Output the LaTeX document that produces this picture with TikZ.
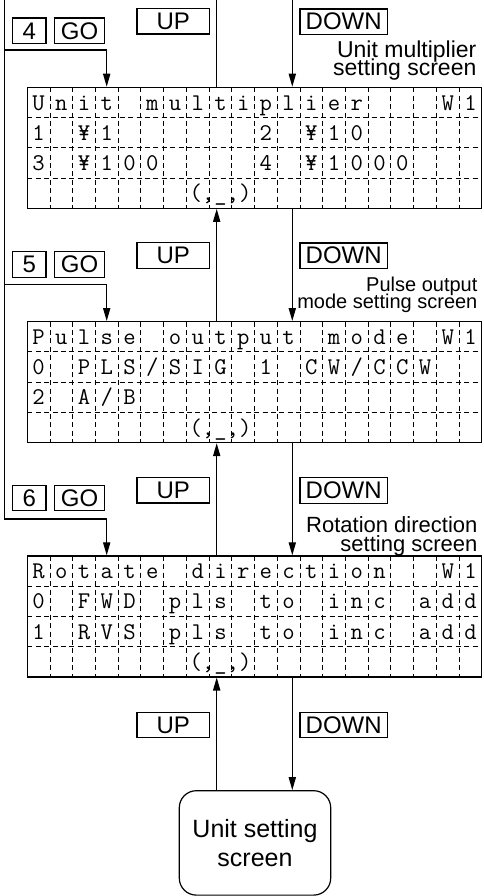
\documentclass[tikz,border=0pt]{standalone}
\usepackage{fontspec}
\setmainfont{Liberation Sans}
\usepackage{tikz}
\usetikzlibrary{positioning,arrows.meta}
\newcommand\tightskip{\lineskiplimit=-20pt\relax}

\begin{document}
\begin{tikzpicture}[x=0.5pt,y=-0.5pt,line width=0.6pt,
  lcd/.style={draw,rectangle,inner sep=0pt,minimum width=227.25pt,minimum height=60.5pt},
  cellgrid/.style={line width=0.5pt,dash pattern=on 2.5pt off 1.7pt},
  lcdchar/.style={anchor=base,inner sep=0pt,font=\fontsize{12}{14}\selectfont\ttfamily},
  keybox/.style={draw,inner sep=0pt,minimum width=#1,minimum height=12.75pt,font=\fontsize{12}{14}\selectfont},
  screenname/.style={anchor=north east,inner sep=0pt,align=right},
  arr/.style={-{Triangle[length=6.5pt,width=3.6pt]}}]
\useasboundingbox (0,0) rectangle (483,896);

\coordinate (upx) at (216.7,0);
\coordinate (downx) at (292.3,0);
\coordinate (gox) at (106.7,0);
\coordinate (loopx) at (4.7,0);
\coordinate (turn4) at (4.7,50);
\coordinate (turn5) at (4.7,284.3);
\coordinate (turn6) at (4.7,519);

% screens
\foreach \t in {87.3,321.6,555.9} {
  \foreach \k in {1,...,19}
    \draw[cellgrid] (27.3+\k*22.725,\t) -- ++(0,121);
  \foreach \r in {1,2,3}
    \draw[cellgrid] (27.3,\t+\r*30.25) -- ++(454.5,0);
}
\node[lcd] (mult) at (254.55,147.8) {};
\node[lcd] (pulse) at (254.55,382.1) {};
\node[lcd] (rot) at (254.55,616.4) {};

% unit multiplier
\foreach \ch [count=\k] in {U,n,i,t,,m,u,l,t,i,p,l,i,e,r,,,,W,1}
  \node[lcdchar] (mult-1-\k) at (15.94+\k*22.725,110) {\ch};
\foreach \ch [count=\k] in {1,,¥,1,,,,,,,2,,¥,1,0}
  \node[lcdchar] (mult-2-\k) at (15.94+\k*22.725,140.25) {\ch};
\foreach \ch [count=\k] in {3,,¥,1,0,0,,,,,4,,¥,1,0,0,0}
  \node[lcdchar] (mult-3-\k) at (15.94+\k*22.725,170.5) {\ch};
\foreach \ch [count=\k from 9] in {(,\_,)}
  \node[lcdchar] (mult-4-\k) at (15.94+\k*22.725,200.75) {\ch};

% pulse output mode
\foreach \ch [count=\k] in {P,u,l,s,e,,o,u,t,p,u,t,,m,o,d,e,,W,1}
  \node[lcdchar] (pulse-1-\k) at (15.94+\k*22.725,344.3) {\ch};
\foreach \ch [count=\k] in {0,,P,L,S,/,S,I,G,,1,,C,W,/,C,C,W}
  \node[lcdchar] (pulse-2-\k) at (15.94+\k*22.725,374.55) {\ch};
\foreach \ch [count=\k] in {2,,A,/,B}
  \node[lcdchar] (pulse-3-\k) at (15.94+\k*22.725,404.8) {\ch};
\foreach \ch [count=\k from 9] in {(,\_,)}
  \node[lcdchar] (pulse-4-\k) at (15.94+\k*22.725,435.05) {\ch};

% rotation direction
\foreach \ch [count=\k] in {R,o,t,a,t,e,,d,i,r,e,c,t,i,o,n,,,W,1}
  \node[lcdchar] (rot-1-\k) at (15.94+\k*22.725,578.6) {\ch};
\foreach \ch [count=\k] in {0,,F,W,D,,p,l,s,,t,o,,i,n,c,,a,d,d}
  \node[lcdchar] (rot-2-\k) at (15.94+\k*22.725,608.85) {\ch};
\foreach \ch [count=\k] in {1,,R,V,S,,p,l,s,,t,o,,i,n,c,,a,d,d}
  \node[lcdchar] (rot-3-\k) at (15.94+\k*22.725,639.1) {\ch};
\foreach \ch [count=\k from 9] in {(,\_,)}
  \node[lcdchar] (rot-4-\k) at (15.94+\k*22.725,669.35) {\ch};

% keys
\node[keybox=16.85pt] (key4) at (29.2,30.8) {4};
\node[keybox=25pt,right=3.65pt of key4] (go4) {GO};
\node[keybox=36.15pt] (up1) at (173.2,21.3) {UP};
\node[keybox=43.65pt] (down1) at (343.7,21.7) {DOWN};

\node[keybox=16.85pt] (key5) at (29.2,264.5) {5};
\node[keybox=25pt,right=3.65pt of key5] (go5) {GO};
\node[keybox=36.15pt] (up2) at (173.2,255.6) {UP};
\node[keybox=43.65pt] (down2) at (343.7,255.7) {DOWN};

\node[keybox=16.85pt] (key6) at (29.2,497.9) {6};
\node[keybox=25pt,right=3.65pt of key6] (go6) {GO};
\node[keybox=36.15pt] (up3) at (173.2,490.3) {UP};
\node[keybox=43.65pt] (down3) at (343.7,490.6) {DOWN};

\node[keybox=36.15pt] (up4) at (173.2,725) {UP};
\node[keybox=43.65pt] (down4) at (343.7,725) {DOWN};

% screen names
\node[screenname,font={\fontsize{11.5}{9.1}\selectfont\tightskip}] (multname) at (477,40.2) {Unit multiplier\\setting screen};
\node[screenname,font={\fontsize{10}{8.8}\selectfont\tightskip}] (pulsename) at (478,276.2) {Pulse output\\mode setting screen};
\node[screenname,font={\fontsize{11}{9.3}\selectfont\tightskip}] (rotname) at (478,516.2) {Rotation direction\\setting screen};

\node[draw,rounded corners=8.5pt,minimum width=75.7pt,minimum height=52.2pt,align=center,font=\fontsize{12.5}{14.5}\selectfont] (unit) at (255,842.9) {Unit setting\\screen};

% connectors
\draw (mult.north -| upx) -- (upx);
\draw[arr] (downx) -- (mult.north -| downx);
\draw[arr] (pulse.north -| upx) -- (mult.south -| upx);
\draw[arr] (mult.south -| downx) -- (pulse.north -| downx);
\draw[arr] (rot.north -| upx) -- (pulse.south -| upx);
\draw[arr] (pulse.south -| downx) -- (rot.north -| downx);
\draw[arr] (unit.north -| upx) -- (rot.south -| upx);
\draw[arr] (rot.south -| downx) -- (unit.north -| downx);

\draw[arr] (loopx) -- (turn6) -| (rot.north -| gox);
\draw[arr] (turn4) -| (mult.north -| gox);
\draw[arr] (turn5) -| (pulse.north -| gox);
\end{tikzpicture}
\end{document}
